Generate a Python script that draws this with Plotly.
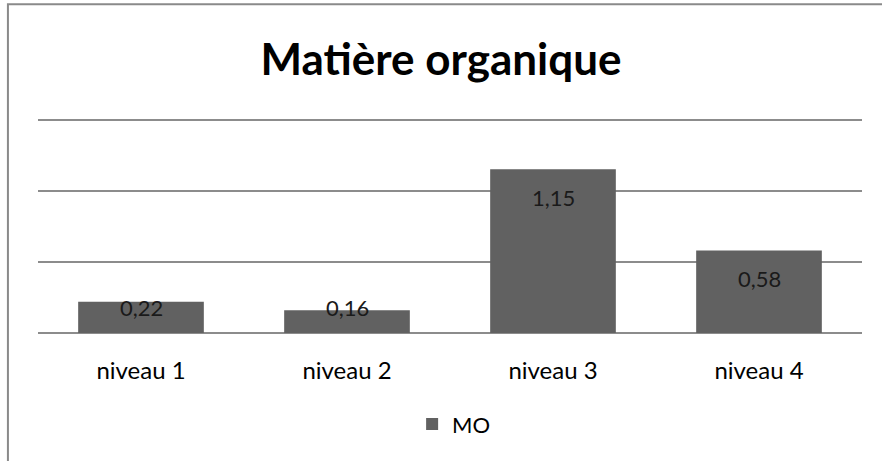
import plotly.graph_objects as go

# données
niveaux = ["niveau 1", "niveau 2", "niveau 3", "niveau 4"]
mo = [0.22, 0.16, 1.15, 0.58]
etiquettes = ["0,22", "0,16", "1,15", "0,58"]

BAR_COLOR = "#616161"
GRID_COLOR = "#8c8c8c"
FONT = "Lato"

fig = go.Figure()

fig.add_trace(go.Bar(
    x=niveaux,
    y=mo,
    name="MO",
    marker=dict(color=BAR_COLOR, line=dict(width=0)),
))

# étiquettes de données (position "intérieur fin" façon Excel)
for cat, val, txt in zip(niveaux, mo, etiquettes):
    fig.add_annotation(
        x=cat, y=max(val - 0.2, 0.18),
        text=txt, showarrow=False,
        xanchor="center", yanchor="middle",
        font=dict(family=FONT, size=22, color="#1a1a1a"),
    )

# cadre du graphique (bords gauche et haut visibles)
fig.add_shape(
    type="rect", xref="paper", yref="paper",
    x0=-0.0365, x1=1.2, y0=-1.0, y1=1.515,
    line=dict(color="#8a8a8a", width=2),
    fillcolor="rgba(0,0,0,0)",
    layer="below",
)

fig.update_layout(
    title=dict(
        text="<b>Matière organique</b>",
        x=0.5, xanchor="center",
        y=0.87, yanchor="middle",
        font=dict(family=FONT, size=44, color="black"),
    ),
    width=882, height=461,
    margin=dict(l=38, r=20, t=116, b=128),
    paper_bgcolor="white",
    plot_bgcolor="white",
    bargap=0.39,
    showlegend=True,
    legend=dict(
        orientation="h",
        x=0.505, xanchor="center",
        y=-0.42, yanchor="middle",
        font=dict(family=FONT, size=22, color="black"),
        itemwidth=30,
    ),
    xaxis=dict(
        showline=False,
        ticks="",
        tickfont=dict(family=FONT, size=24, color="black"),
        ticklabelstandoff=21,
    ),
    yaxis=dict(
        range=[0, 1.525],
        dtick=0.5,
        showticklabels=False,
        showgrid=True,
        gridcolor=GRID_COLOR,
        gridwidth=1.5,
        zeroline=True,
        zerolinecolor=GRID_COLOR,
        zerolinewidth=1.5,
        showline=False,
    ),
)

# page sans marge pour caler la figure en haut à gauche
fig.write_html(
    "out.html",
    config={"displayModeBar": False},
    post_script="document.body.style.margin='0';",
)
